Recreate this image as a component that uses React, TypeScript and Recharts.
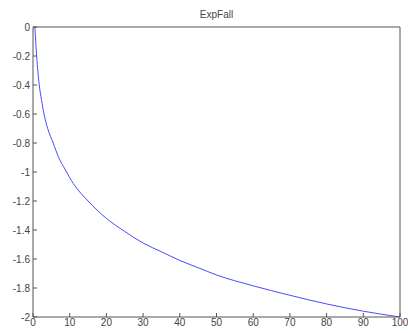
import { LineChart, Line, XAxis, YAxis } from 'recharts'

const xs = [0.5, 1, 1.7, 2.3, 3, 4, 5.5, 7, 8.7, 11, 15, 20, 25, 30, 35, 40, 45, 50, 60, 70, 80, 90, 100]
const ys = [0, -0.2, -0.4, -0.5, -0.6, -0.7, -0.8, -0.9, -0.98, -1.08, -1.2, -1.32, -1.41, -1.49, -1.55, -1.61, -1.66, -1.71, -1.785, -1.85, -1.91, -1.96, -2]
const xTicks = [0, 10, 20, 30, 40, 50, 60, 70, 80, 90, 100]
const yTicks = [0, -0.2, -0.4, -0.6, -0.8, -1, -1.2, -1.4, -1.6, -1.8, -2]
const title = 'ExpFall'

const data = xs.map((x, i) => ({ x, y: ys[i] }))

const axisColor = '#555'
const tickFont = { fontSize: 10, fill: '#444', fontFamily: 'Liberation Sans, Arial, sans-serif' }

export default function App() {
  return (
    <div style={{ position: 'absolute', left: 0, top: 0, width: 408, height: 333, background: '#fff' }}>
      <div
        style={{
          position: 'absolute',
          left: 33,
          width: 367,
          top: 9,
          textAlign: 'center',
          fontSize: 10,
          color: '#444',
          fontFamily: 'Liberation Sans, Arial, sans-serif',
        }}
      >
        {title}
      </div>
      <LineChart width={408} height={333} data={data} margin={{ top: 26, right: 7, bottom: 0, left: 0 }}>
        <XAxis
          dataKey="x"
          type="number"
          domain={[0, 100]}
          ticks={xTicks}
          height={16}
          stroke={axisColor}
          tick={tickFont}
          tickSize={-4}
          tickMargin={6}
          interval={0}
        />
        <XAxis
          xAxisId="top"
          dataKey="x"
          type="number"
          orientation="top"
          domain={[0, 100]}
          ticks={xTicks}
          height={1}
          stroke={axisColor}
          tick={false}
          tickSize={-4}
          interval={0}
        />
        <YAxis
          dataKey="y"
          type="number"
          domain={[-2, 0]}
          ticks={yTicks}
          width={33}
          stroke={axisColor}
          tick={tickFont}
          tickSize={-4}
          tickMargin={7}
          interval={0}
          tickFormatter={(v: number) => String(Number(v.toFixed(1)))}
        />
        <YAxis
          yAxisId="right"
          orientation="right"
          type="number"
          domain={[-2, 0]}
          ticks={yTicks}
          width={1}
          stroke={axisColor}
          tick={false}
          tickSize={-4}
          interval={0}
        />
        <Line
          dataKey="y"
          type="monotone"
          stroke="#4a4aff"
          strokeWidth={1}
          dot={false}
          isAnimationActive={false}
        />
      </LineChart>
    </div>
  )
}
